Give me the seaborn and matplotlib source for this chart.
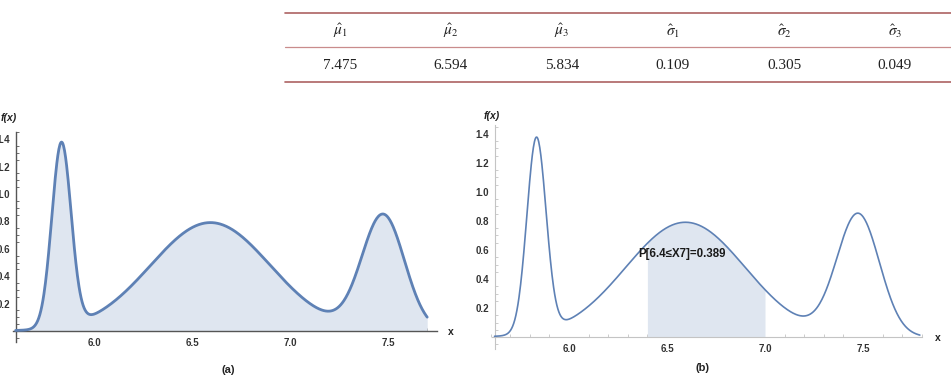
import numpy as np
import pandas as pd
import matplotlib
matplotlib.use("Agg")
import matplotlib.pyplot as plt
import seaborn as sns
from matplotlib.lines import Line2D
from matplotlib.ticker import MultipleLocator

# ---------------- data ----------------
param_labels = [r"$\hat{\mu}_1$", r"$\hat{\mu}_2$", r"$\hat{\mu}_3$",
                r"$\hat{\sigma}_1$", r"$\hat{\sigma}_2$", r"$\hat{\sigma}_3$"]
param_values = ["7.475", "6.594", "5.834", "0.109", "0.305", "0.049"]

mu = [7.475, 6.594, 5.834]
sigma = [0.109, 0.305, 0.049]
weights = [0.23, 0.605, 0.165]          # mixing weights, estimated from the peak heights

x_range_a = (5.60, 7.70)
x_range_b = (5.62, 7.79)
shade_b = (6.4, 7.0)
annotation_b = "P[6.4≤X7]=0.389"
x_ticks = [6.0, 6.5, 7.0, 7.5]
y_ticks = [0.2, 0.4, 0.6, 0.8, 1.0, 1.2, 1.4]
panel_labels = ["(a)", "(b)"]


def mixture_pdf(x):
    x = np.asarray(x, dtype=float)
    out = np.zeros_like(x)
    for w, m, s in zip(weights, mu, sigma):
        out += w / (s * np.sqrt(2 * np.pi)) * np.exp(-0.5 * ((x - m) / s) ** 2)
    return out


# ---------------- style ----------------
sns.set_theme(style="white")
plt.rcParams["font.family"] = ["Liberation Sans", "DejaVu Sans"]
plt.rcParams["mathtext.fontset"] = "stix"

W, H = 951, 380
fig = plt.figure(figsize=(W / 100, H / 100), dpi=100)
fig.patch.set_facecolor("white")

LINE = "#5E81B5"
FILL = "#dfe6f0"


def px_axes(l, t, r, b):
    return fig.add_axes([l / W, 1 - b / H, (r - l) / W, (b - t) / H])


def fx(px):
    return px / W


def fy(py):
    return 1 - py / H


# ---------------- table ----------------
tx0 = 285
fig.add_artist(Line2D([fx(tx0), 1], [fy(13.3)] * 2, transform=fig.transFigure,
                      color="#ad6262", lw=1.2))
fig.add_artist(Line2D([fx(tx0), 1], [fy(47.3)] * 2, transform=fig.transFigure,
                      color="#c98c8c", lw=0.9))
fig.add_artist(Line2D([fx(tx0), 1], [fy(82.3)] * 2, transform=fig.transFigure,
                      color="#ad6262", lw=1.2))
for i, (lab, val) in enumerate(zip(param_labels, param_values)):
    cx = 340 + 111 * i
    fig.text(fx(cx), fy(31), lab, ha="center", va="center", fontsize=11,
             color="#222222")
    fig.text(fx(cx), fy(65.5), val, ha="center", va="center", fontsize=11,
             family="Liberation Serif", color="#222222")


# ---------------- panels ----------------
def style_axis(ax, xlo, xspine_hi, ytop, axcol, lblcol, lw_axis):
    for s in ["top", "right"]:
        ax.spines[s].set_visible(False)
    ax.spines["left"].set_position(("data", xlo))
    ax.spines["bottom"].set_position(("data", 0))
    ax.spines["left"].set_bounds(-0.08, ytop)
    ax.spines["bottom"].set_bounds(xlo - 0.015, xspine_hi)
    for s in ["left", "bottom"]:
        ax.spines[s].set_color(axcol)
        ax.spines[s].set_linewidth(lw_axis)
    ax.set_xticks(x_ticks, labels=[f"{t:.1f}" for t in x_ticks])
    ax.set_yticks(y_ticks, labels=[f"{t:.1f}" for t in y_ticks])
    ax.xaxis.set_minor_locator(MultipleLocator(0.1))
    ax.yaxis.set_minor_locator(MultipleLocator(0.05))
    ax.tick_params(which="major", direction="in", length=4, width=0.8,
                   color=axcol, labelsize=7, labelcolor=lblcol)
    ax.tick_params(which="minor", direction="in", length=2, width=0.6,
                   color=axcol)
    ax.tick_params(axis="x", which="major", pad=5)
    ax.tick_params(axis="y", which="major", pad=4)
    ax.tick_params(axis="x", which="minor", bottom=True)
    ax.tick_params(axis="y", which="minor", left=True)
    for t in ax.get_xticklabels() + ax.get_yticklabels():
        t.set_fontweight("bold")
    ax.set_xlabel("")
    ax.set_ylabel("")
    ax.patch.set_alpha(0)
    ax.grid(False)


# panel (a): x px = 94 + (x-6)*196 ; y px = 331 - y*137
axA = px_axes(94 + (5.58 - 6) * 196, 331 - 1.47 * 137,
              94 + (7.78 - 6) * 196, 331 + 0.09 * 137)
xa = np.linspace(*x_range_a, 800)
dfa = pd.DataFrame({"x": xa, "f": mixture_pdf(xa)})
axA.fill_between(dfa["x"], 0, dfa["f"], color=FILL, lw=0, zorder=1)
sns.lineplot(data=dfa, x="x", y="f", ax=axA, color=LINE, linewidth=2.0,
             zorder=3)
axA.set_xlim(5.58, 7.78)
axA.set_ylim(-0.09, 1.47)
style_axis(axA, x_range_a[0], 7.75, 1.45, "#555555", "#333333", 1.0)

# panel (b): x px = 569 + (x-6)*196 ; y px = 337 - y*145
axB = px_axes(569 + (5.58 - 6) * 196, 337 - 1.47 * 145,
              569 + (7.86 - 6) * 196, 337 + 0.09 * 145)
xb = np.linspace(*x_range_b, 800)
dfb = pd.DataFrame({"x": xb, "f": mixture_pdf(xb)})
xs = np.linspace(*shade_b, 300)
axB.fill_between(xs, 0, mixture_pdf(xs), color=FILL, lw=0, zorder=1)
sns.lineplot(data=dfb, x="x", y="f", ax=axB, color=LINE, linewidth=1.2,
             zorder=3)
axB.set_xlim(5.58, 7.86)
axB.set_ylim(-0.09, 1.47)
style_axis(axB, x_range_b[0], 7.80, 1.46, "#c4c4c4", "#333333", 0.8)
axB.text(6.575, 0.57, annotation_b, ha="center", va="center", fontsize=8.3,
         fontweight="bold", color="#1a1a1a", zorder=5)

# axis titles
fig.text(fx(9), fy(118), "f(x)", ha="center", va="center", fontsize=7.5,
         fontweight="bold", style="italic", color="#222222")
fig.text(fx(451), fy(332), "x", ha="center", va="center", fontsize=7.5,
         fontweight="bold", color="#222222")
fig.text(fx(492), fy(116), "f(x)", ha="center", va="center", fontsize=7.5,
         fontweight="bold", style="italic", color="#222222")
fig.text(fx(938), fy(338), "x", ha="center", va="center", fontsize=7.5,
         fontweight="bold", color="#222222")

# panel labels
fig.text(fx(228), fy(370), panel_labels[0], ha="center", va="center",
         fontsize=8, fontweight="bold", color="#222222")
fig.text(fx(702), fy(368), panel_labels[1], ha="center", va="center",
         fontsize=8, fontweight="bold", color="#222222")

fig.savefig("out.png", dpi=100, facecolor="white")
